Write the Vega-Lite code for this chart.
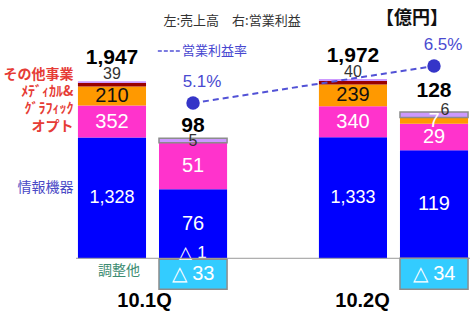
{
  "$schema": "https://vega.github.io/schema/vega-lite/v6.json",
  "width": 394,
  "height": 285,
  "autosize": {"type": "none"},
  "padding": {"left": 76, "top": 0, "right": 0, "bottom": 26},
  "background": "white",
  "config": {"view": {"stroke": null}, "axis": {"grid": false}, "font": "Noto Sans CJK JP"},
  "datasets": {
    "rows": [
      {"q": "10.1Q", "kind": "売上高", "seg": "情報機器", "v": 1328},
      {"q": "10.1Q", "kind": "売上高", "seg": "オプト", "v": 352},
      {"q": "10.1Q", "kind": "売上高", "seg": "メディカル&グラフィック", "v": 210},
      {"q": "10.1Q", "kind": "売上高", "seg": "その他事業", "v": 39},
      {"q": "10.1Q", "kind": "売上高", "seg": "調整他", "v": 18},
      {"q": "10.1Q", "kind": "売上高", "seg": "合計", "v": 1947},
      {"q": "10.1Q", "kind": "営業利益", "seg": "情報機器", "v": 76},
      {"q": "10.1Q", "kind": "営業利益", "seg": "オプト", "v": 51},
      {"q": "10.1Q", "kind": "営業利益", "seg": "メディカル&グラフィック", "v": -1},
      {"q": "10.1Q", "kind": "営業利益", "seg": "その他事業", "v": 5},
      {"q": "10.1Q", "kind": "営業利益", "seg": "調整他", "v": -33},
      {"q": "10.1Q", "kind": "営業利益", "seg": "合計", "v": 98},
      {"q": "10.2Q", "kind": "売上高", "seg": "情報機器", "v": 1333},
      {"q": "10.2Q", "kind": "売上高", "seg": "オプト", "v": 340},
      {"q": "10.2Q", "kind": "売上高", "seg": "メディカル&グラフィック", "v": 239},
      {"q": "10.2Q", "kind": "売上高", "seg": "その他事業", "v": 40},
      {"q": "10.2Q", "kind": "売上高", "seg": "調整他", "v": 20},
      {"q": "10.2Q", "kind": "売上高", "seg": "合計", "v": 1972},
      {"q": "10.2Q", "kind": "営業利益", "seg": "情報機器", "v": 119},
      {"q": "10.2Q", "kind": "営業利益", "seg": "オプト", "v": 29},
      {"q": "10.2Q", "kind": "営業利益", "seg": "メディカル&グラフィック", "v": 7},
      {"q": "10.2Q", "kind": "営業利益", "seg": "その他事業", "v": 6},
      {"q": "10.2Q", "kind": "営業利益", "seg": "調整他", "v": -34},
      {"q": "10.2Q", "kind": "営業利益", "seg": "合計", "v": 128}
    ],
    "rate": [
      {"q": "10.1Q", "kind": "営業利益", "name": "営業利益率", "r": 5.1},
      {"q": "10.2Q", "kind": "営業利益", "name": "営業利益率", "r": 6.5}
    ]
  },
  "resolve": {"scale": {"y": "independent", "color": "independent"}},
  "layer": [
    {
      "data": {"name": "rows"},
      "transform": [
        {"filter": "datum.kind === '売上高'"},
        {"calculate": "datum.seg === '合計' ? 0 : max(datum.v, 0)", "as": "pos"},
        {"joinaggregate": [{"op": "sum", "field": "pos", "as": "top"}], "groupby": ["q"]},
        {"calculate": "indexof(['情報機器','オプト','メディカル&グラフィック','その他事業','調整他','合計'], datum.seg)", "as": "idx"},
        {"stack": "v", "groupby": ["q"], "sort": [{"field": "idx", "order": "ascending"}], "as": ["v0", "v1"]},
        {"calculate": "(datum.v0 + datum.v1) / 2", "as": "mid"},
        {"calculate": "datum.v < 0 ? '△ ' + format(-datum.v, ',') : format(datum.v, ',')", "as": "lbl"}
      ],
      "layer": [
        {
          "transform": [{"filter": "datum.seg !== '合計'"}],
          "mark": {"type": "bar"},
          "encoding": {
            "x": {
              "field": "q", "type": "nominal", "title": null,
              "scale": {"domain": ["10.1Q", "10.2Q"], "paddingInner": 0.365, "paddingOuter": 0},
              "axis": {
                "orient": "bottom", "domain": false, "ticks": false, "labelAngle": 0,
                "labelFont": "Liberation Sans", "labelFontSize": 20, "labelFontWeight": "bold",
                "labelColor": "#000000", "labelPadding": 5,
                "labelOffset": {"condition": {"test": "datum.value === '10.2Q'", "value": -31}, "value": -8}
              }
            },
            "xOffset": {"field": "kind", "type": "nominal", "scale": {"domain": ["売上高", "営業利益"], "paddingInner": 0.16, "paddingOuter": 0.024}},
            "y": {
              "field": "v0", "type": "quantitative", "title": null,
              "scale": {"domain": [-294, 2842], "nice": false, "zero": false},
              "axis": {
                "orient": "left", "domain": false, "ticks": false, "grid": false, "title": null,
                "values": [784, 1445, 1643, 1830, 2017],
                "labelExpr": "datum.value == 2017 ? 'その他事業' : datum.value == 1830 ? 'ﾒﾃﾞｨｶﾙ&' : datum.value == 1643 ? 'ｸﾞﾗﾌｨｯｸ' : datum.value == 1445 ? 'オプト' : '情報機器'",
                "labelFont": "Noto Sans CJK JP", "labelFontSize": 14, "labelPadding": 3,
                "labelOverlap": false, "labelFlush": false,
                "labelColor": {"condition": {"test": "datum.value == 784", "value": "#4a4ac6"}, "value": "#e63c36"},
                "labelFontWeight": {"condition": {"test": "datum.value == 784", "value": "normal"}, "value": "bold"}
              }
            },
            "y2": {"field": "v1"},
            "color": {
              "field": "seg", "type": "nominal", "legend": null,
              "scale": {"domain": ["情報機器", "オプト", "メディカル&グラフィック", "その他事業", "調整他"], "range": ["#0000ff", "#ff33cc", "#ff9900", "#990000", "#cc99ff"]}
            }
          }
        },
        {
          "transform": [{"filter": "indexof(['情報機器','オプト','メディカル&グラフィック'], datum.seg) >= 0"}],
          "mark": {"type": "text", "font": "Liberation Sans", "baseline": "middle"},
          "encoding": {
            "x": {"field": "q", "type": "nominal", "title": null},
            "xOffset": {"field": "kind", "type": "nominal"},
            "y": {"field": "mid", "type": "quantitative", "title": null},
            "text": {"field": "lbl"},
            "color": {"condition": {"test": "datum.seg === 'メディカル&グラフィック'", "value": "#111111"}, "value": "#ffffff"},
            "size": {"condition": {"test": "datum.seg === '情報機器'", "value": 18}, "value": 20}
          }
        },
        {
          "transform": [{"filter": "datum.seg === 'その他事業'"}],
          "mark": {"type": "text", "font": "Liberation Sans", "baseline": "bottom", "fontSize": 16, "color": "#333333", "dy": -1},
          "encoding": {
            "x": {"field": "q", "type": "nominal", "title": null},
            "xOffset": {"field": "kind", "type": "nominal"},
            "y": {"field": "v1", "type": "quantitative", "title": null},
            "text": {"field": "lbl"}
          }
        },
        {
          "transform": [{"filter": "datum.seg === '合計'"}],
          "mark": {"type": "text", "font": "Liberation Sans", "baseline": "bottom", "fontSize": 21, "fontWeight": "bold", "color": "#000000", "dy": -13},
          "encoding": {
            "x": {"field": "q", "type": "nominal", "title": null},
            "xOffset": {"field": "kind", "type": "nominal"},
            "y": {"field": "top", "type": "quantitative", "title": null},
            "text": {"field": "lbl"}
          }
        }
      ]
    },
    {
      "data": {"name": "rows"},
      "transform": [
        {"filter": "datum.kind === '営業利益'"},
        {"calculate": "datum.seg === '合計' ? 0 : max(datum.v, 0)", "as": "pos"},
        {"joinaggregate": [{"op": "sum", "field": "pos", "as": "top"}], "groupby": ["q"]},
        {"calculate": "indexof(['情報機器','オプト','メディカル&グラフィック','その他事業','調整他','合計'], datum.seg)", "as": "idx"},
        {"stack": "v", "groupby": ["q"], "sort": [{"field": "idx", "order": "ascending"}], "as": ["v0", "v1"]},
        {"calculate": "(datum.v0 + datum.v1) / 2", "as": "mid"},
        {"calculate": "datum.v < 0 ? '△ ' + format(-datum.v, ',') : format(datum.v, ',')", "as": "lbl"}
      ],
      "layer": [
        {
          "transform": [{"filter": "datum.seg !== '合計'"}],
          "mark": {"type": "bar", "strokeWidth": 1.5},
          "encoding": {
            "x": {"field": "q", "type": "nominal", "title": null},
            "xOffset": {"field": "kind", "type": "nominal"},
            "y": {
              "field": "v0", "type": "quantitative", "title": null,
              "scale": {"domain": [-29.4, 284.2], "nice": false, "zero": false},
              "axis": null
            },
            "y2": {"field": "v1"},
            "color": {
              "field": "seg", "type": "nominal", "legend": null,
              "scale": {"domain": ["情報機器", "オプト", "メディカル&グラフィック", "その他事業", "調整他"], "range": ["#0000ff", "#ff33cc", "#ff9900", "#cc99ff", "#33ccff"]}
            },
            "stroke": {"condition": {"test": "datum.seg === 'その他事業' || datum.seg === '調整他'", "value": "#8c8c8c"}, "value": "transparent"}
          }
        },
        {
          "transform": [{"filter": "datum.seg !== '合計'"}],
          "mark": {
            "type": "text", "font": "Liberation Sans", "baseline": "middle",
            "dy": {"expr": "datum.v === -1 ? -6 : (datum.seg === 'その他事業' && datum.q === '10.2Q') ? -5 : 0"},
            "dx": {"expr": "(datum.seg === 'その他事業' && datum.q === '10.2Q') ? 11 : 0"}
          },
          "encoding": {
            "x": {"field": "q", "type": "nominal", "title": null},
            "xOffset": {"field": "kind", "type": "nominal"},
            "y": {"field": "mid", "type": "quantitative", "title": null},
            "text": {"field": "lbl"},
            "color": {"condition": {"test": "datum.seg === 'その他事業'", "value": "#333333"}, "value": "#ffffff"},
            "size": {"condition": [{"test": "datum.seg === 'その他事業'", "value": 16}, {"test": "datum.v === -1", "value": 17}], "value": 20}
          }
        },
        {
          "transform": [{"filter": "datum.seg === '合計'"}],
          "mark": {"type": "text", "font": "Liberation Sans", "baseline": "bottom", "fontSize": 21, "fontWeight": "bold", "color": "#000000", "dy": {"expr": "datum.q === '10.2Q' ? -11 : -2"}},
          "encoding": {
            "x": {"field": "q", "type": "nominal", "title": null},
            "xOffset": {"field": "kind", "type": "nominal"},
            "y": {"field": "top", "type": "quantitative", "title": null},
            "text": {"field": "lbl"}
          }
        }
      ]
    },
    {
      "layer": [
        {
          "data": {"values": [{"q": "10.1Q", "kind": "売上高"}]},
          "mark": {"type": "rule", "color": "#9a9a9a", "strokeWidth": 1},
          "encoding": {
            "y": {"datum": 0, "type": "quantitative", "scale": {"domain": [-294, 2842], "nice": false, "zero": false}, "axis": null}
          }
        },
        {
          "data": {"values": [{"t": "左:売上高　右:営業利益", "q": "10.1Q", "kind": "営業利益"}]},
          "mark": {"type": "text", "fontSize": 13, "color": "#333333", "dx": 39, "baseline": "middle"},
          "encoding": {
            "x": {"field": "q", "type": "nominal", "title": null},
            "xOffset": {"field": "kind", "type": "nominal"},
            "y": {"datum": 2611, "type": "quantitative"},
            "text": {"field": "t"}
          }
        },
        {
          "data": {"values": [{"t": "【億円】", "q": "10.2Q", "kind": "営業利益"}]},
          "mark": {"type": "text", "fontSize": 18, "fontWeight": "bold", "color": "#111111", "dx": -22, "baseline": "middle"},
          "encoding": {
            "x": {"field": "q", "type": "nominal", "title": null},
            "xOffset": {"field": "kind", "type": "nominal"},
            "y": {"datum": 2633, "type": "quantitative"},
            "text": {"field": "t"}
          }
        },
        {
          "data": {"values": [{"t": "調整他", "q": "10.1Q", "kind": "売上高"}]},
          "mark": {"type": "text", "fontSize": 14, "color": "#3d8c72", "dx": 7, "baseline": "middle"},
          "encoding": {
            "x": {"field": "q", "type": "nominal", "title": null},
            "xOffset": {"field": "kind", "type": "nominal"},
            "y": {"datum": -140, "type": "quantitative"},
            "text": {"field": "t"}
          }
        }
      ]
    },
    {
      "data": {"name": "rate"},
      "transform": [{"calculate": "format(datum.r, '.1f') + '%'", "as": "lbl"}],
      "encoding": {
        "x": {"field": "q", "type": "nominal", "title": null},
        "xOffset": {"field": "kind", "type": "nominal"},
        "y": {"field": "r", "type": "quantitative", "title": null, "scale": {"domain": [-1.786, 9.0], "nice": false, "zero": false}, "axis": null}
      },
      "layer": [
        {
          "mark": {"type": "line", "strokeDash": [6, 4], "strokeWidth": 2},
          "encoding": {
            "stroke": {
              "field": "name", "type": "nominal",
              "scale": {"range": ["#5252d6"]},
              "legend": {
                "orient": "none", "legendX": 81, "legendY": 39, "title": null,
                "symbolType": "stroke", "symbolDash": [4, 2], "symbolStrokeWidth": 1.5, "symbolSize": 500,
                "labelFont": "Noto Sans CJK JP", "labelFontSize": 13, "labelColor": "#4646d0", "labelOffset": 1, "padding": 0
              }
            }
          }
        },
        {"mark": {"type": "circle", "size": 180, "color": "#3535c8", "opacity": 1}},
        {
          "mark": {"type": "text", "dx": 9, "dy": -21, "fontSize": 17, "color": "#4a4ad0", "font": "Liberation Sans", "baseline": "middle"},
          "encoding": {"text": {"field": "lbl"}}
        }
      ]
    }
  ]
}
